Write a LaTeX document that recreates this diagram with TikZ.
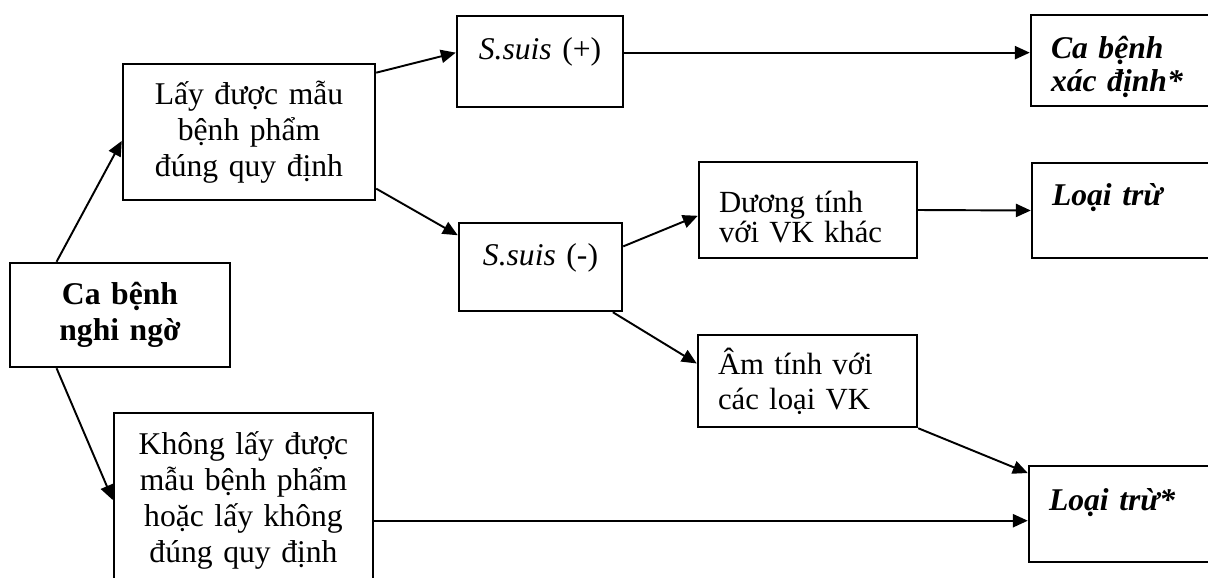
\documentclass[tikz,border=0pt]{standalone}
\usepackage{fontspec}
\setmainfont{Liberation Serif}
\usetikzlibrary{arrows.meta}

\begin{document}
\begin{tikzpicture}[box/.style={draw, line width=1.4pt, inner xsep=0pt, inner ysep=0pt, align=center, font=\fontsize{18}{20.5}\selectfont},
    lbox/.style={box, align=left, inner xsep=0.4cm},
    arr/.style={draw, line width=1.1pt, -{Triangle[length=8.5pt,width=7.5pt]}}]
    \useasboundingbox (0,0) rectangle (24.16,-11.54);
    \clip (0,0) rectangle (24.16,-11.54);

    \node[box, minimum width=4.40cm, minimum height=2.08cm, text width=4.2cm] (nghi) at (2.40,-6.30) {\textbf{Ca bệnh}\\\textbf{nghi ngờ}};
    \node[box, minimum width=5.04cm, minimum height=2.72cm, text width=4.8cm] (layduoc) at (4.98,-2.64) {Lấy được mẫu\\bệnh phẩm\\đúng quy định};
    \node[box, minimum width=5.18cm, minimum height=3.48cm, text width=5.0cm] (khong) at (4.87,-10.00) {Không lấy được\\mẫu bệnh phẩm\\hoặc lấy không\\đúng quy định};

    \node[box, minimum width=3.32cm, minimum height=1.82cm, text width=3.1cm] (ssplus) at (10.80,-1.23) {\textit{S.suis} (+)\\[-6pt]\mbox{}};
    \node[box, minimum width=3.26cm, minimum height=1.76cm, text width=3.1cm] (ssminus) at (10.81,-5.34) {\textit{S.suis} (-)\\[-6pt]\mbox{}};

    \node[lbox, text width=3.56cm, minimum height=1.92cm, font=\fontsize{17.5}{17}\selectfont] (duong) at (16.16,-4.20) {\rule{0pt}{20pt}Dương tính\\với VK khác};
    \node[lbox, text width=3.58cm, minimum height=1.84cm, font=\fontsize{17.5}{20}\selectfont] (amtinh) at (16.15,-7.62) {Âm tính với\\các loại VK};

    \node[lbox, text width=3.38cm, minimum height=1.82cm, font=\fontsize{18}{18.5}\selectfont] (xacdinh) at (22.71,-1.21) {\rule{0pt}{20pt}\textbf{\textit{Ca bệnh}}\\\textbf{\textit{xác định*}}};
    \node[lbox, text width=3.36cm, minimum height=1.90cm] (loaitru) at (22.72,-4.21) {\textbf{\textit{Loại trừ}}\\[-2pt]\mbox{}};
    \node[lbox, text width=3.42cm, minimum height=1.92cm] (loaitrusao) at (22.69,-10.28) {\textbf{\textit{Loại trừ*}}\\[-4pt]\mbox{}};

    \draw[arr] (nghi.140) -- (layduoc.184);
    \draw[arr] (nghi.220) -- (khong.west);
    \draw[arr] (layduoc.25) -- (ssplus.174);
    \draw[arr] (layduoc.336) -- (ssminus.159);
    \draw[arr] (ssplus.6.5) -- (ssplus.6.5 -| xacdinh.west);
    \draw[arr] (ssminus.14) -- (duong.183);
    \draw[arr] (ssminus.328) -- (amtinh.171);
    \draw[arr] (duong.east) -- (loaitru.west);
    \draw[arr] (amtinh.south east) -- (loaitrusao.159);
    \draw[arr] (khong.351) -- (khong.351 -| loaitrusao.west);
  \end{tikzpicture}
\end{document}
